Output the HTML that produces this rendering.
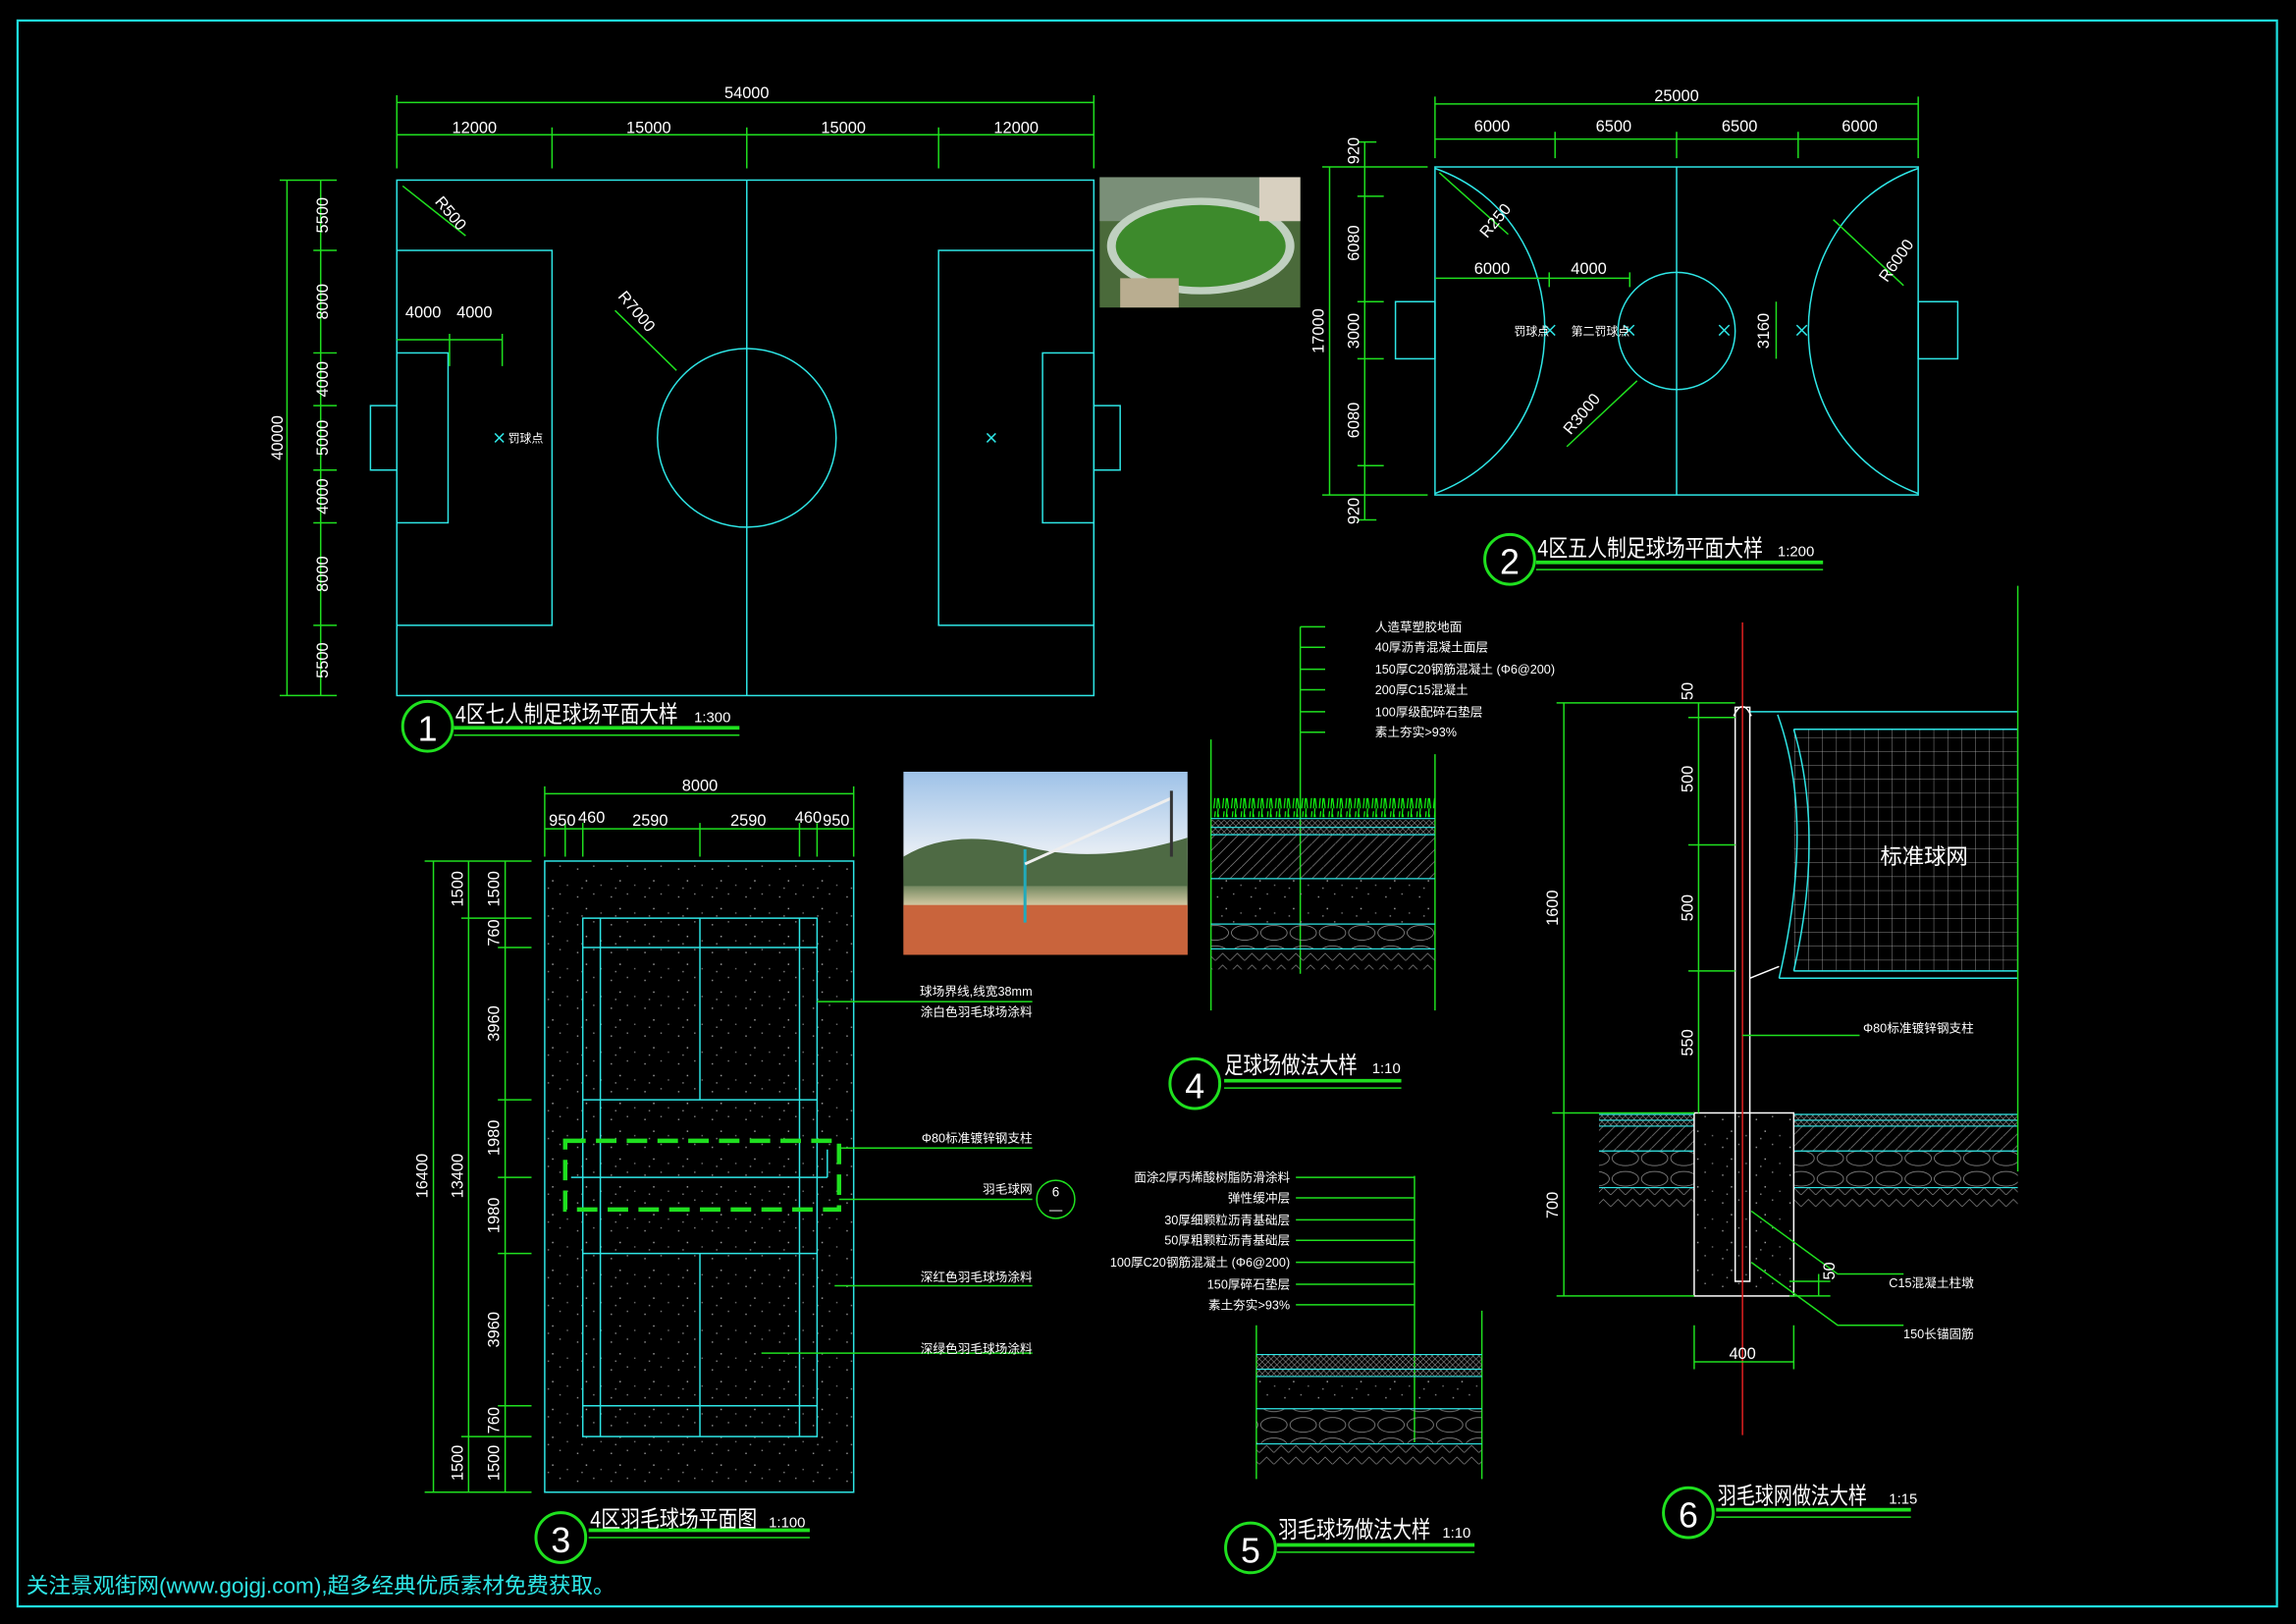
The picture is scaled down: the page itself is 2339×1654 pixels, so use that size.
<!DOCTYPE html>
<html><head><meta charset="utf-8"><style>
html,body{margin:0;padding:0;background:#000;}
svg{display:block;}
text{font-family:"Liberation Sans","Noto Sans CJK SC",sans-serif;fill:#fff;}
</style></head><body>
<svg width="2339" height="1654" viewBox="0 0 1568 1109" preserveAspectRatio="none" xmlns="http://www.w3.org/2000/svg">
<defs>
<pattern id="spk" width="23" height="19" patternUnits="userSpaceOnUse">
<rect x="3" y="4" width="1" height="1" fill="#888"/><rect x="14" y="2" width="1" height="1" fill="#777"/><rect x="9" y="12" width="1" height="1" fill="#999"/><rect x="19" y="15" width="1" height="1" fill="#666"/><rect x="6" y="17" width="1" height="1" fill="#777"/></pattern>
<pattern id="hatch" width="8" height="8" patternUnits="userSpaceOnUse"><path d="M0,8 L8,0" stroke="#888" stroke-width="0.5"/></pattern>
<pattern id="xh" width="4" height="4" patternUnits="userSpaceOnUse"><path d="M0,4 L4,0 M0,0 L4,4" stroke="#999" stroke-width="0.4"/></pattern>
<pattern id="stone" width="20" height="14" patternUnits="userSpaceOnUse"><ellipse cx="10" cy="7" rx="9" ry="5" fill="none" stroke="#999" stroke-width="0.5"/></pattern>
<pattern id="soil" width="10" height="8" patternUnits="userSpaceOnUse"><path d="M0,8 L5,3 L10,8" fill="none" stroke="#888" stroke-width="0.5"/></pattern>
<pattern id="grass" width="6" height="12" patternUnits="userSpaceOnUse"><path d="M1,12 L2,2 M3,12 L4,0 M5,12 L4,4" stroke="#1f1" stroke-width="0.8"/></pattern>
<pattern id="net" width="9.5" height="9.5" patternUnits="userSpaceOnUse"><path d="M0,0 H9.5 M0,0 V9.5" stroke="#bbb" stroke-width="0.5"/></pattern>
<linearGradient id="sky" x1="0" y1="0" x2="0" y2="1"><stop offset="0" stop-color="#9ec2e8"/><stop offset="0.45" stop-color="#e8eef5"/><stop offset="0.6" stop-color="#5e7a52"/><stop offset="0.75" stop-color="#e6d6b0"/><stop offset="1" stop-color="#c8603a"/></linearGradient>
</defs>
<rect width="1568" height="1109" fill="#000"/>
<rect x="12" y="14" width="1543" height="1083" fill="none" stroke="#1fe0e0" stroke-width="1.5"/>

<!-- Drawing 1 -->
<g stroke="#2ee6e6" fill="none" stroke-width="1">
<rect x="271" y="123" width="476" height="352"/>
<line x1="510" y1="123" x2="510" y2="475"/>
<circle cx="510" cy="299" r="61"/>
<rect x="271" y="171" width="106" height="256"/>
<rect x="271" y="241" width="35" height="116"/>
<rect x="253" y="277" width="18" height="44"/>
<rect x="641" y="171" width="106" height="256"/>
<rect x="712" y="241" width="35" height="116"/>
<rect x="747" y="277" width="18" height="44"/>
<path d="M338,296 l6,6 M344,296 l-6,6 M674,296 l6,6 M680,296 l-6,6"/>
</g>
<g stroke="#1fe01f" fill="none" stroke-width="1">
<line x1="271" y1="70" x2="747" y2="70"/><line x1="271" y1="92" x2="747" y2="92"/>
<path d="M271,65 V115 M747,65 V115 M377,87 V115 M510,87 V115 M641,87 V115"/>
<line x1="196" y1="123" x2="196" y2="475"/><line x1="219" y1="123" x2="219" y2="475"/>
<path d="M191,123 H230 M214,171 H230 M214,241 H230 M214,277 H230 M214,321 H230 M214,357 H230 M214,427 H230 M191,475 H230"/>
<line x1="271" y1="232" x2="343" y2="232"/><path d="M307,228 V250 M343,228 V250"/>
<line x1="275" y1="127" x2="318" y2="161"/><line x1="462" y1="253" x2="420" y2="212"/>
</g>
<g font-size="11" text-anchor="middle">
<text x="510" y="67">54000</text><text x="324" y="91">12000</text><text x="443" y="91">15000</text><text x="576" y="91">15000</text><text x="694" y="91">12000</text>
<text x="289" y="217">4000</text><text x="324" y="217">4000</text>
<text transform="translate(193,299) rotate(-90)">40000</text>
<text transform="translate(224,147) rotate(-90)">5500</text>
<text transform="translate(224,206) rotate(-90)">8000</text>
<text transform="translate(224,259) rotate(-90)">4000</text>
<text transform="translate(224,299) rotate(-90)">5000</text>
<text transform="translate(224,339) rotate(-90)">4000</text>
<text transform="translate(224,392) rotate(-90)">8000</text>
<text transform="translate(224,451) rotate(-90)">5500</text>
<text transform="translate(305,148) rotate(50)">R500</text>
<text transform="translate(432,215) rotate(50)">R7000</text>
</g>
<text x="347" y="302" font-size="8">罚球点</text>
<circle cx="292" cy="496" r="17" fill="none" stroke="#1fe01f" stroke-width="2"/>
<text x="292" y="506" font-size="24" text-anchor="middle">1</text>
<text x="311" y="493" font-size="16" textLength="152" lengthAdjust="spacingAndGlyphs">4区七人制足球场平面大样</text><text x="474" y="493" font-size="10">1:300</text>
<line x1="310" y1="497" x2="505" y2="497" stroke="#1fe01f" stroke-width="2.5"/><line x1="310" y1="502" x2="505" y2="502" stroke="#1fe01f" stroke-width="1"/>

<!-- photo 1 -->
<rect x="751" y="121" width="137" height="89" fill="#4a6a3a"/>
<rect x="751" y="121" width="137" height="30" fill="#7a8f78"/>
<ellipse cx="820" cy="168" rx="64" ry="33" fill="#c0d0c0"/>
<ellipse cx="820" cy="168" rx="58" ry="28" fill="#3d8a2c"/>
<rect x="765" y="190" width="40" height="20" fill="#b9ad90"/>
<rect x="860" y="121" width="28" height="30" fill="#d8d0c0"/>

<!-- Drawing 2 -->
<g stroke="#2ee6e6" fill="none" stroke-width="1">
<rect x="980" y="114" width="330" height="224"/>
<line x1="1145" y1="114" x2="1145" y2="338"/>
<circle cx="1145" cy="226" r="40"/>
<path d="M980,115 C1080,150 1080,300 980,337"/>
<path d="M1310,115 C1210,150 1210,300 1310,337"/>
<rect x="953" y="206" width="27" height="39"/><rect x="1310" y="206" width="27" height="39"/>
<path d="M1055,222 l7,7 M1062,222 l-7,7 M1109,222 l7,7 M1116,222 l-7,7 M1174,222 l7,7 M1181,222 l-7,7 M1227,222 l7,7 M1234,222 l-7,7"/>
</g>
<g stroke="#1fe01f" fill="none" stroke-width="1">
<line x1="980" y1="71" x2="1310" y2="71"/><line x1="980" y1="95" x2="1310" y2="95"/>
<path d="M980,66 V108 M1310,66 V108 M1062,90 V108 M1145,90 V108 M1228,90 V108"/>
<line x1="908" y1="114" x2="908" y2="338"/><line x1="932" y1="97" x2="932" y2="355"/>
<path d="M903,114 H975 M927,134 H945 M927,206 H945 M927,245 H945 M927,318 H945 M903,338 H975 M927,97 H940 M927,355 H940"/>
<line x1="980" y1="190" x2="1113" y2="190"/><path d="M1058,186 V196 M1113,186 V196"/>
<line x1="1213" y1="206" x2="1213" y2="245"/>
<line x1="983" y1="118" x2="1030" y2="160"/><line x1="1118" y1="260" x2="1070" y2="305"/><line x1="1252" y1="150" x2="1300" y2="195"/>
</g>
<g font-size="11" text-anchor="middle">
<text x="1145" y="69">25000</text><text x="1019" y="90">6000</text><text x="1102" y="90">6500</text><text x="1188" y="90">6500</text><text x="1270" y="90">6000</text>
<text x="1019" y="187">6000</text><text x="1085" y="187">4000</text>
<text transform="translate(904,226) rotate(-90)">17000</text>
<text transform="translate(928,103) rotate(-90)">920</text>
<text transform="translate(928,166) rotate(-90)">6080</text>
<text transform="translate(928,226) rotate(-90)">3000</text>
<text transform="translate(928,287) rotate(-90)">6080</text>
<text transform="translate(928,349) rotate(-90)">920</text>
<text transform="translate(1208,226) rotate(-90)">3160</text>
<text transform="translate(1024,153) rotate(-50)">R250</text>
<text transform="translate(1083,285) rotate(-50)">R3000</text>
<text transform="translate(1298,180) rotate(-55)">R6000</text>
</g>
<text x="1034" y="229" font-size="8">罚球点</text><text x="1073" y="229" font-size="8">第二罚球点</text>
<circle cx="1031" cy="382" r="17" fill="none" stroke="#1fe01f" stroke-width="2"/>
<text x="1031" y="392" font-size="24" text-anchor="middle">2</text>
<text x="1050" y="380" font-size="16" textLength="154" lengthAdjust="spacingAndGlyphs">4区五人制足球场平面大样</text><text x="1214" y="380" font-size="10">1:200</text>
<line x1="1049" y1="384" x2="1245" y2="384" stroke="#1fe01f" stroke-width="2.5"/><line x1="1049" y1="389" x2="1245" y2="389" stroke="#1fe01f" stroke-width="1"/>

<!-- Drawing 3 -->
<rect x="372" y="588" width="211" height="431" fill="url(#spk)" stroke="#2ee6e6" stroke-width="1"/>
<g stroke="#2ee6e6" fill="none" stroke-width="1">
<rect x="398" y="627" width="160" height="354"/>
<path d="M410,627 V981 M546,627 V981 M478,627 V751 M478,856 V981 M398,647 H558 M398,751 H558 M398,856 H558 M398,960 H558 M390,804 H565 M565,804 V785"/>
</g>
<rect x="386" y="779" width="187" height="47" fill="none" stroke="#1fe01f" stroke-width="3" stroke-dasharray="14,7"/>
<g stroke="#1fe01f" fill="none" stroke-width="1">
<line x1="372" y1="542" x2="583" y2="542"/><line x1="372" y1="566" x2="583" y2="566"/>
<path d="M372,537 V585 M583,537 V585 M386,562 V585 M398,562 V585 M478,562 V585 M546,562 V585 M558,562 V585"/>
<line x1="296" y1="588" x2="296" y2="1019"/><line x1="320" y1="588" x2="320" y2="1019"/><line x1="345" y1="588" x2="345" y2="1019"/>
<path d="M290,588 H363 M315,627 H363 M340,647 H363 M340,751 H363 M340,804 H363 M340,856 H363 M340,960 H363 M315,981 H363 M290,1019 H363"/>
<path d="M558,684 H705 M573,784 H705 M573,819 H705 M570,878 H705 M520,924 H705"/>
<circle cx="721" cy="819" r="13"/>
</g>
<g font-size="11" text-anchor="middle">
<text x="478" y="540">8000</text>
<text x="384" y="564">950</text><text x="404" y="562">460</text><text x="444" y="564">2590</text><text x="511" y="564">2590</text><text x="552" y="562">460</text><text x="571" y="564">950</text>
<text transform="translate(292,803) rotate(-90)">16400</text>
<text transform="translate(316,803) rotate(-90)">13400</text>
<text transform="translate(316,607) rotate(-90)">1500</text>
<text transform="translate(316,999) rotate(-90)">1500</text>
<text transform="translate(341,607) rotate(-90)">1500</text>
<text transform="translate(341,637) rotate(-90)">760</text>
<text transform="translate(341,699) rotate(-90)">3960</text>
<text transform="translate(341,777) rotate(-90)">1980</text>
<text transform="translate(341,830) rotate(-90)">1980</text>
<text transform="translate(341,908) rotate(-90)">3960</text>
<text transform="translate(341,970) rotate(-90)">760</text>
<text transform="translate(341,999) rotate(-90)">1500</text>
<text x="721" y="817" font-size="9">6</text><text x="721" y="829" font-size="9">—</text>
</g>
<g font-size="8.5" text-anchor="end">
<text x="705" y="680">球场界线,线宽38mm</text><text x="705" y="694">涂白色羽毛球场涂料</text>
<text x="705" y="780">Φ80标准镀锌钢支柱</text><text x="705" y="815">羽毛球网</text>
<text x="705" y="875">深红色羽毛球场涂料</text><text x="705" y="924">深绿色羽毛球场涂料</text>
</g>
<circle cx="383" cy="1050" r="17" fill="none" stroke="#1fe01f" stroke-width="2"/>
<text x="383" y="1060" font-size="24" text-anchor="middle">3</text>
<text x="403" y="1043" font-size="16" textLength="114" lengthAdjust="spacingAndGlyphs">4区羽毛球场平面图</text><text x="525" y="1043" font-size="10">1:100</text>
<line x1="402" y1="1045" x2="553" y2="1045" stroke="#1fe01f" stroke-width="2.5"/><line x1="402" y1="1050" x2="553" y2="1050" stroke="#1fe01f" stroke-width="1"/>

<!-- photo 2 -->
<rect x="617" y="527" width="194" height="125" fill="url(#sky)"/>
<path d="M617,585 Q650,565 700,578 T811,572 L811,605 L617,605Z" fill="#4e6a44"/>
<rect x="617" y="618" width="194" height="34" fill="#c9643c"/>
<line x1="700" y1="580" x2="700" y2="630" stroke="#2ab" stroke-width="2"/>
<line x1="700" y1="590" x2="800" y2="545" stroke="#eee" stroke-width="2"/>
<line x1="800" y1="540" x2="800" y2="585" stroke="#333" stroke-width="2"/>

<!-- Drawing 4 -->
<g stroke="#1fe01f" fill="none" stroke-width="1">
<line x1="888" y1="428" x2="888" y2="665"/>
<path d="M888,428 H905 M888,442 H905 M888,457 H905 M888,471 H905 M888,486 H905 M888,500 H905"/>
<path d="M827,505 V690 M980,515 V690"/>
</g>
<rect x="827" y="545" width="153" height="13" fill="url(#grass)"/>
<rect x="827" y="560" width="153" height="10" fill="url(#xh)"/>
<rect x="827" y="570" width="153" height="30" fill="url(#hatch)"/>
<rect x="827" y="600" width="153" height="31" fill="url(#spk)"/>
<rect x="827" y="631" width="153" height="17" fill="url(#stone)"/>
<rect x="827" y="648" width="153" height="14" fill="url(#soil)"/>
<g stroke="#2ee6e6" stroke-width="0.8"><path d="M827,559 H980 M827,565 H980 M827,570 H980 M827,600 H980 M827,631 H980 M827,648 H980"/></g>
<g font-size="8.5"><text x="939" y="431">人造草塑胶地面</text><text x="939" y="445">40厚沥青混凝土面层</text><text x="939" y="460">150厚C20钢筋混凝土 (Φ6@200)</text><text x="939" y="474">200厚C15混凝土</text><text x="939" y="489">100厚级配碎石垫层</text><text x="939" y="503">素土夯实&gt;93%</text></g>
<circle cx="816" cy="740" r="17" fill="none" stroke="#1fe01f" stroke-width="2"/>
<text x="816" y="750" font-size="24" text-anchor="middle">4</text>
<text x="836" y="733" font-size="16" textLength="91" lengthAdjust="spacingAndGlyphs">足球场做法大样</text><text x="937" y="733" font-size="10">1:10</text>
<line x1="836" y1="738" x2="957" y2="738" stroke="#1fe01f" stroke-width="2.5"/><line x1="836" y1="743" x2="957" y2="743" stroke="#1fe01f" stroke-width="1"/>

<!-- Drawing 5 -->
<g stroke="#1fe01f" fill="none" stroke-width="1">
<line x1="966" y1="803" x2="966" y2="985"/>
<path d="M885,804 H966 M885,818 H966 M885,833 H966 M885,847 H966 M885,862 H966 M885,877 H966 M885,891 H966"/>
<path d="M858,905 V1010 M1012,895 V1010"/>
</g>
<rect x="858" y="925" width="154" height="15" fill="url(#xh)"/>
<rect x="858" y="940" width="154" height="22" fill="url(#spk)"/>
<rect x="858" y="962" width="154" height="24" fill="url(#stone)"/>
<rect x="858" y="986" width="154" height="14" fill="url(#soil)"/>
<g stroke="#2ee6e6" stroke-width="0.8"><path d="M858,925 H1012 M858,935 H1012 M858,940 H1012 M858,962 H1012 M858,986 H1012"/></g>
<g font-size="8.5" text-anchor="end"><text x="881" y="807">面涂2厚丙烯酸树脂防滑涂料</text><text x="881" y="821">弹性缓冲层</text><text x="881" y="836">30厚细颗粒沥青基础层</text><text x="881" y="850">50厚粗颗粒沥青基础层</text><text x="881" y="865">100厚C20钢筋混凝土 (Φ6@200)</text><text x="881" y="880">150厚碎石垫层</text><text x="881" y="894">素土夯实&gt;93%</text></g>
<circle cx="854" cy="1057" r="17" fill="none" stroke="#1fe01f" stroke-width="2"/>
<text x="854" y="1067" font-size="24" text-anchor="middle">5</text>
<text x="873" y="1050" font-size="16" textLength="104" lengthAdjust="spacingAndGlyphs">羽毛球场做法大样</text><text x="985" y="1050" font-size="10">1:10</text>
<line x1="872" y1="1055" x2="1007" y2="1055" stroke="#1fe01f" stroke-width="2.5"/><line x1="872" y1="1060" x2="1007" y2="1060" stroke="#1fe01f" stroke-width="1"/>

<!-- Drawing 6 -->
<rect x="1092" y="761" width="65" height="8" fill="url(#xh)"/><rect x="1225" y="761" width="153" height="8" fill="url(#xh)"/>
<rect x="1092" y="769" width="65" height="17" fill="url(#hatch)"/><rect x="1225" y="769" width="153" height="17" fill="url(#hatch)"/>
<rect x="1092" y="786" width="65" height="25" fill="url(#stone)"/><rect x="1225" y="786" width="153" height="25" fill="url(#stone)"/>
<rect x="1092" y="811" width="65" height="14" fill="url(#soil)"/><rect x="1225" y="811" width="153" height="14" fill="url(#soil)"/>
<g stroke="#2ee6e6" stroke-width="0.8"><path d="M1092,761 H1157 M1225,761 H1378 M1092,765 H1157 M1225,765 H1378 M1092,769 H1157 M1225,769 H1378 M1092,786 H1157 M1225,786 H1378 M1092,811 H1157 M1225,811 H1378"/></g>
<rect x="1157" y="760" width="68" height="125" fill="url(#spk)" stroke="#fff" stroke-width="1"/>
<rect x="1225" y="498" width="153" height="165" fill="url(#net)"/>
<g stroke="#2ee6e6" fill="none" stroke-width="1">
<path d="M1195,486 H1378 M1215,668 H1378 M1225,498 H1378 M1225,663 H1378"/>
<path d="M1214,488 Q1240,560 1215,668 M1225,498 Q1246,570 1225,663"/>
</g>
<path d="M1195,668 L1215,660" stroke="#fff" fill="none"/>
<rect x="1185" y="483" width="10" height="392" fill="none" stroke="#fff" stroke-width="1"/>
<path d="M1184,489 Q1190,476 1196,489" fill="none" stroke="#fff"/>
<line x1="1190" y1="425" x2="1190" y2="980" stroke="#e02020" stroke-width="1"/>
<g stroke="#1fe01f" fill="none" stroke-width="1">
<line x1="1068" y1="480" x2="1068" y2="885"/><path d="M1063,480 H1185 M1060,760 H1157 M1063,885 H1157"/>
<line x1="1160" y1="480" x2="1160" y2="760"/><path d="M1153,490 H1185 M1153,577 H1185 M1153,663 H1185"/>
<line x1="1378" y1="400" x2="1378" y2="800"/>
<path d="M1190,707 H1270 M1196,827 L1255,870 H1300 M1196,862 L1255,905 H1300"/>
<path d="M1157,905 V935 M1225,905 V935 M1157,930 H1225"/>
<path d="M1222,875 H1250 M1222,885 H1250 M1242,870 V885"/>
</g>
<g font-size="11" text-anchor="middle">
<text transform="translate(1064,620) rotate(-90)">1600</text>
<text transform="translate(1064,823) rotate(-90)">700</text>
<text transform="translate(1156,472) rotate(-90)">50</text>
<text transform="translate(1156,532) rotate(-90)">500</text>
<text transform="translate(1156,620) rotate(-90)">500</text>
<text transform="translate(1156,712) rotate(-90)">550</text>
<text transform="translate(1253,868) rotate(-90)">50</text>
<text x="1190" y="928">400</text>
</g>
<text x="1314" y="590" font-size="15" text-anchor="middle">标准球网</text>
<g font-size="8.5" text-anchor="end"><text x="1348" y="705">Φ80标准镀锌钢支柱</text><text x="1348" y="879">C15混凝土柱墩</text><text x="1348" y="914">150长锚固筋</text></g>
<circle cx="1153" cy="1033" r="17" fill="none" stroke="#1fe01f" stroke-width="2"/>
<text x="1153" y="1043" font-size="24" text-anchor="middle">6</text>
<text x="1173" y="1027" font-size="16" textLength="102" lengthAdjust="spacingAndGlyphs">羽毛球网做法大样</text><text x="1290" y="1027" font-size="10">1:15</text>
<line x1="1172" y1="1031" x2="1305" y2="1031" stroke="#1fe01f" stroke-width="2.5"/><line x1="1172" y1="1036" x2="1305" y2="1036" stroke="#1fe01f" stroke-width="1"/>

<text x="18" y="1088" font-size="15" textLength="402" lengthAdjust="spacingAndGlyphs" style="fill:#2ee6e6">关注景观街网(www.gojgj.com),超多经典优质素材免费获取。</text>
</svg>
</body></html>
